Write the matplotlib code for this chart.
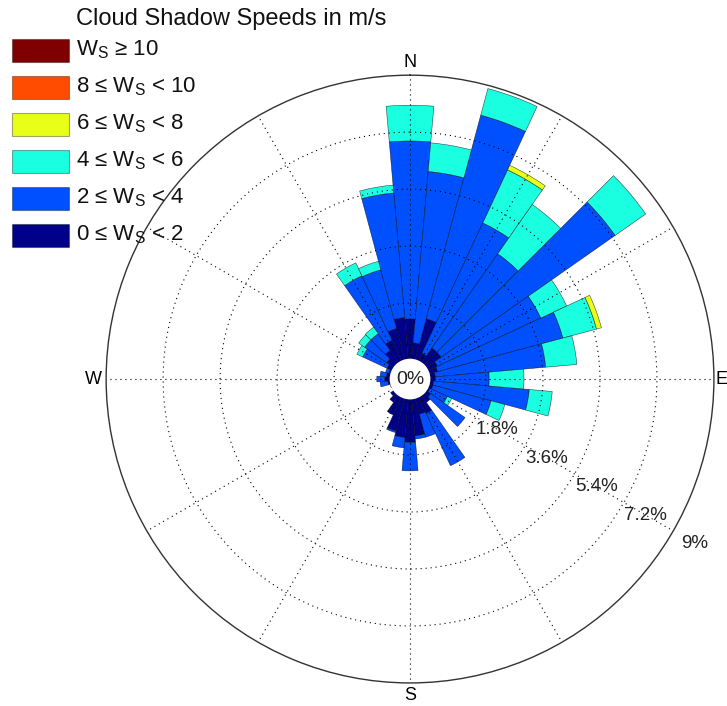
import numpy as np
import matplotlib.pyplot as plt
from matplotlib.patches import Rectangle, Circle

plt.rcParams['font.family'] = ['Liberation Sans', 'DejaVu Sans']
plt.rcParams['mathtext.fontset'] = 'custom'
plt.rcParams['mathtext.rm'] = 'Liberation Sans'

# direction of each sector (deg, clockwise from north)
directions = [0, 10, 20, 30, 40, 50, 60, 70, 80, 90, 100, 110,
              120, 130, 140, 150, 160, 170, 180, 190, 200, 210, 220, 230,
              240, 250, 260, 270, 280, 290, 300, 310, 320, 330, 340, 350]

# frequency (%) of each speed class per direction
ws_0_2 = [1.30, 0.55, 1.37, 0.30, 0.60, 0.60, 0.35, 0.30, 0.20, 0.20, 0.15, 0.15,
          0.10, 0.20, 0.30, 0.60, 0.55, 1.20, 1.40, 1.25, 1.10, 0.65, 0.30, 0.15,
          0.00, 0.05, 0.10, 0.20, 0.15, 0.10, 0.20, 0.30, 0.50, 0.75, 1.05, 1.35]
ws_2_4 = [5.62, 5.43, 6.66, 4.54, 3.63, 6.71, 3.61, 4.10, 3.50, 1.70, 3.03, 1.90,
          0.60, 1.32, 0.00, 1.82, 0.75, 0.10, 0.90, 0.33, 0.05, 0.00, 0.00, 0.00,
          0.00, 0.00, 0.25, 0.25, 0.20, 0.10, 0.85, 0.85, 0.65, 2.25, 1.92, 3.95]
ws_4_6 = [1.13, 0.91, 0.87, 1.85, 1.90, 1.18, 0.90, 1.10, 0.99, 1.10, 0.73, 0.45,
          0.15, 0.00, 0.00, 0.00, 0.00, 0.00, 0.00, 0.00, 0.00, 0.00, 0.00, 0.00,
          0.00, 0.00, 0.00, 0.00, 0.00, 0.00, 0.20, 0.23, 0.25, 0.45, 0.28, 0.25]
ws_6_8 = [0.00, 0.00, 0.00, 0.16, 0.00, 0.00, 0.00, 0.16, 0.00, 0.00, 0.00, 0.00,
          0.00, 0.00, 0.00, 0.00, 0.00, 0.00, 0.00, 0.00, 0.00, 0.00, 0.00, 0.00,
          0.00, 0.00, 0.00, 0.00, 0.00, 0.00, 0.00, 0.00, 0.00, 0.00, 0.00, 0.00]
ws_8_10 = [0.0] * 36
ws_10_up = [0.0] * 36

classes = [ws_0_2, ws_2_4, ws_4_6, ws_6_8, ws_8_10, ws_10_up]
colors = ['#000088', '#0050FF', '#1AFFE0', '#E8FF18', '#FF4C00', '#7F0000']
labels = ['0 ≤ W$_\\mathregular{S}$ < 2', '2 ≤ W$_\\mathregular{S}$ < 4',
          '4 ≤ W$_\\mathregular{S}$ < 6', '6 ≤ W$_\\mathregular{S}$ < 8',
          '8 ≤ W$_\\mathregular{S}$ < 10', 'W$_\\mathregular{S}$ ≥ 10']

ring_values = [1.8, 3.6, 5.4, 7.2, 9]

W, H = 727, 706
fig = plt.figure(figsize=(W / 100, H / 100), dpi=100)
ax = fig.add_axes([0.146, 0.0326, 0.836, 0.861], projection='polar')
ax.set_theta_zero_location('N')
ax.set_theta_direction(-1)
ax.set_ylim(0, 9)
ax.set_rorigin(-0.6)

# stacked bars
theta = np.deg2rad(directions)
width = np.deg2rad(10)
bottom = np.zeros(len(directions))
for vals, c in zip(classes, colors):
    vals = np.array(vals)
    for t, b, h in zip(theta, bottom, vals):
        if h > 0:
            ax.bar(t, h, width=width, bottom=b, color=c,
                   edgecolor=(0, 0, 0, 0.7), linewidth=0.4)
    bottom = bottom + vals

# grid
ax.set_axisbelow(False)
ax.set_xticks(np.deg2rad(np.arange(0, 360, 30)))
ax.set_xticklabels([])
ax.set_yticks(ring_values[:-1])
ax.set_yticklabels([])
ax.grid(True, color='k', linewidth=0.8, linestyle=(0, (1, 3.5)))
ax.spines['polar'].set_color('0.2')
ax.spines['polar'].set_linewidth(1.0)
ax.spines['inner'].set_visible(False)

# white hole in the middle
ax.add_artist(Circle((0.5, 0.5), 0.0335, transform=ax.transAxes,
                     facecolor='white', edgecolor='none', zorder=5,
                     clip_on=False))
ax.text(0.5, 0.5, '0%', transform=ax.transAxes, ha='center', va='center',
        fontsize=14, color='#222222', zorder=6)

for ang, lab, rr in zip([0, 90, 180, 270], ['N', 'E', 'S', 'W'],
                        [9.41, 9.25, 9.41, 9.41]):
    ax.text(np.deg2rad(ang), rr, lab, ha='center', va='center',
            fontsize=13, clip_on=False)

for v in ring_values:
    ax.text(np.deg2rad(120), v + 0.79, f'{v:g}%', ha='center', va='center',
            fontsize=13.5, color='#222222', clip_on=False)

# legend drawn by hand (pixel positions)
fig.text(76 / W, 1 - 25 / H, 'Cloud Shadow Speeds in m/s', fontsize=17,
         ha='left', va='baseline', color='#111111')
for i in range(6):
    k = 5 - i
    top = 39 + 37 * i
    fig.add_artist(Rectangle((12 / W, 1 - (top + 23) / H), 57 / W, 23 / H,
                             transform=fig.transFigure, facecolor=colors[k],
                             edgecolor=(0, 0, 0, 0.35), linewidth=0.8))
    fig.text(76 / W, 1 - (top + 16) / H, labels[k], fontsize=16,
             ha='left', va='baseline', color='#111111')

fig.savefig('out.png', dpi=100)
